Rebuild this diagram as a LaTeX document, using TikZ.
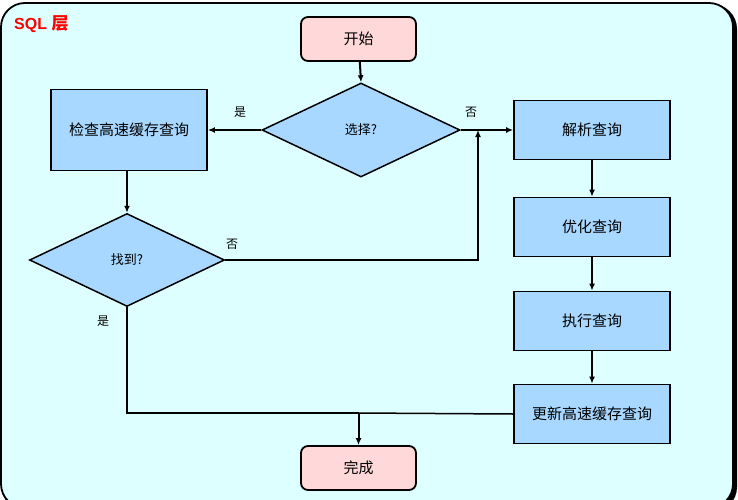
\documentclass[tikz,border=0pt]{standalone}
\usepackage{fontspec}
\setmainfont{Noto Sans CJK SC}
\newfontfamily\cjk{Noto Sans CJK SC}
\newfontfamily\arialb{Liberation Sans}
\usetikzlibrary{arrows.meta,shapes.geometric}
\definecolor{bgc}{HTML}{DDFFFF}
\definecolor{boxc}{HTML}{A8D8FF}
\definecolor{pinkc}{HTML}{FFD9D9}
\tikzset{
  x=1pt,y=-1pt,
  procbox/.style={draw=black,line width=1.8pt,fill=boxc,minimum width=156pt,font=\cjk\fontsize{15}{17}\selectfont,inner sep=0pt},
  termbox/.style={draw=black,line width=1.8pt,fill=pinkc,rounded corners=7pt,minimum width=115pt,minimum height=44pt,font=\cjk\fontsize{15}{17}\selectfont,inner sep=0pt},
  decbox/.style={draw=black,line width=1.5pt,fill=boxc,diamond,aspect=2.1,inner sep=0pt,font=\cjk\fontsize{13}{15}\selectfont},
  conn/.style={line width=2pt,-{Latex[length=7pt,width=6pt]}},
  thinconn/.style={line width=1.5pt},
  lbl/.style={font=\cjk\fontsize{12}{14}\selectfont}
}
\begin{document}
\begin{tikzpicture}
\useasboundingbox (0,0) rectangle (738,500);
\begin{scope}
\clip (0,0) rectangle (738,500);
\fill[white] (0,0) rectangle (738,500);
\draw[line width=2pt,rounded corners=24pt,fill=black] (3,5) rectangle (736,511);
\draw[line width=1.8pt,rounded corners=24pt,fill=bgc] (1,3) rectangle (733,508);
\end{scope}
\node[text=red,anchor=west,inner sep=0pt] (title) at (14,24) {\arialb\bfseries\fontsize{16}{18}\selectfont SQL \cjk\bfseries\fontsize{17}{19}\selectfont 层};

\node[termbox] (start) at (358.5,39) {开始};
\node[decbox,minimum width=198pt,minimum height=94pt] (sel) at (361,130) {选择?};
\node[procbox,minimum height=81pt] (check) at (129,130) {检查高速缓存查询};
\node[procbox,minimum height=59pt] (parse) at (592,130) {解析查询};
\node[procbox,minimum height=59pt] (opt) at (592,227) {优化查询};
\node[procbox,minimum height=59pt] (exec) at (592,321) {执行查询};
\node[procbox,minimum height=59pt] (upd) at (592,414) {更新高速缓存查询};
\node[termbox] (done) at (358.5,468) {完成};
\node[decbox,minimum width=195pt,minimum height=93pt] (found) at (127,260) {找到?};

\coordinate (j1) at (478,130);
\coordinate (j2) at (127,413);
\coordinate (j3) at (358.5,413);

\draw[conn] (start) -- (sel.north);
\draw[conn,line width=1.5pt] (sel.west) -- (check.east);
\draw[conn,line width=2.5pt] (sel.east) -- (parse.west);
\draw[conn,line width=1.5pt] (found.north |- check.south) -- (found.north);
\draw[conn] (found.east) -- (found.east -| j1) -- (j1);
\draw[line width=2.8pt] (found.south) -- (j2) -- (j3);
\draw[thinconn] (upd.west) -- (j3);
\draw[conn] (j3) -- (done.north);
\draw[conn] (parse) -- (opt);
\draw[conn] (opt) -- (exec);
\draw[conn] (exec) -- (upd);

\node[lbl] (l1) at (240,112) {是};
\node[lbl] (l2) at (471,112) {否};
\node[lbl] (l3) at (232,244) {否};
\node[lbl] (l4) at (103,321) {是};
\end{tikzpicture}
\end{document}
